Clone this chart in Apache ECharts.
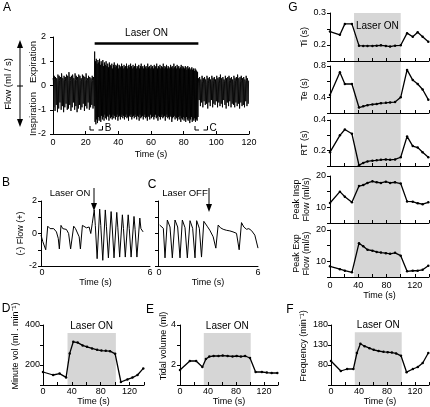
<!DOCTYPE html>
<html><head><meta charset="utf-8">
<script src="https://cdn.jsdelivr.net/npm/echarts@6/dist/echarts.min.js"></script>
<style>html,body{margin:0;padding:0;background:#fff}#c{width:430px;height:407px}</style>
</head><body><div id="c"></div>
<script>
// ================= DATA =================
// Panel A: flow trace sampled every 0.25 s (ml/s)
const flowStep = 0.25;
const flowPre = [
0.3,0.2,-0.9, 0.4,0.25,-1.05, 0.35,0.2,-0.8, 0.3,0.15,-1.1, 0.45,0.3,-0.95,
0.4,0.2,-0.7, 0.35,0.25,-1.0, 0.5,0.3,-0.85, 0.3,0.2,-1.1, 0.4,0.25,-0.9,
0.35,0.15,-0.75, 0.45,0.3,-1.0, 0.4,0.2,-0.95, 0.55,0.3,-0.8, 0.35,0.2,-1.05,
0.4,0.25,-0.9, 0.45,0.3,-0.7, 0.3,0.2,-1.0, 0.5,0.25,-0.85, 0.4,0.2,-1.1,
0.35,0.25,-0.95, 0.45,0.3,-0.8, 0.4,0.2,-1.0, 0.3,0.15,-0.9, 0.45,0.25,-0.75,
0.4,0.3,-1.05, 0.35,0.2,-0.85, 0.5,0.25,-0.95, 0.3,0.2,-0.7, 0.4,0.25,-1.0,
0.35,0.2,-0.9, 0.3,0.15,-0.8, 0.4,0.2,-0.95, 0.35,0.2,-0.85
];
const flowLaser = [
1.4,-1.5, 1.0,-1.6, 1.1,-1.4, 0.9,-1.55, 1.05,-1.3, 0.95,-1.45, 1.1,-1.35, 0.85,-1.5, 1.0,-1.25, 0.9,-1.4,
1.05,-1.3, 0.8,-1.45, 0.95,-1.2, 0.85,-1.35, 1.0,-1.4, 0.8,-1.25, 0.9,-1.3, 0.75,-1.45, 0.95,-1.2, 0.85,-1.35,
0.8,-1.3, 0.9,-1.4, 0.7,-1.2, 0.85,-1.35, 0.95,-1.25, 0.75,-1.4, 0.85,-1.3, 0.8,-1.2, 0.9,-1.45, 0.7,-1.3,
0.85,-1.25, 0.8,-1.4, 0.75,-1.3, 0.9,-1.2, 0.8,-1.35, 0.7,-1.25, 0.85,-1.4, 0.75,-1.3, 0.8,-1.2, 0.9,-1.35,
0.7,-1.3, 0.8,-1.45, 0.85,-1.25, 0.75,-1.3, 0.9,-1.2, 0.8,-1.4, 0.7,-1.3, 0.85,-1.25, 0.75,-1.35, 0.8,-1.2,
0.9,-1.3, 0.7,-1.4, 0.8,-1.25, 0.75,-1.3, 0.85,-1.45, 0.7,-1.2, 0.8,-1.35, 0.9,-1.3, 0.75,-1.25, 0.8,-1.4,
0.7,-1.3, 0.85,-1.2, 0.75,-1.35, 0.8,-1.3, 0.7,-1.45, 0.9,-1.25, 0.75,-1.3, 0.8,-1.4, 0.7,-1.2, 0.85,-1.35,
0.75,-1.3, 0.8,-1.25, 0.7,-1.4, 0.85,-1.3, 0.75,-1.2, 0.8,-1.35, 0.9,-1.3, 0.7,-1.45, 0.8,-1.25, 0.75,-1.3,
0.85,-1.4, 0.7,-1.3, 0.8,-1.2, 0.75,-1.35, 0.9,-1.3, 0.7,-1.25, 0.8,-1.45, 0.75,-1.3, 0.85,-1.2, 0.7,-1.35,
0.8,-1.3, 0.75,-1.4, 0.7,-1.25, 0.85,-1.3, 0.75,-1.5, 0.8,-1.35, 0.7,-1.3, 0.9,-1.25, 0.75,-1.4, 0.8,-1.3,
0.7,-1.35, 0.85,-1.45, 0.75,-1.3, 0.8,-1.4, 0.7,-1.25, 0.75,-1.5, 0.85,-1.35, 0.7,-1.4, 0.8,-1.3, 0.75,-1.45,
0.7,-1.35, 0.8,-1.5, 0.75,-1.3, 0.65,-1.4, 0.8,-1.45, 0.7,-1.35, 0.75,-1.55, 0.65,-1.4, 0.7,-1.3, 0.75,-1.5,
0.65,-1.4, 0.7,-1.45, 0.6,-1.35, 0.7,-1.5, 0.65,-1.4, 0.6,-1.45, 0.55,-1.3
];
const flowPost = [
0.3,0.1,-0.6, 0.35,0.15,-0.85, 0.25,0.1,-0.7, 0.4,0.15,-0.9, 0.3,0.1,-0.65,
0.35,0.2,-0.8, 0.25,0.05,-0.75, 0.4,0.2,-0.95, 0.3,0.1,-0.7, 0.35,0.15,-0.85,
0.25,0.1,-0.6, 0.4,0.2,-0.9, 0.3,0.1,-0.75, 0.35,0.15,-0.8, 0.25,0.05,-0.65,
0.4,0.2,-0.9, 0.3,0.15,-0.7, 0.35,0.1,-0.85, 0.45,0.2,-0.75, 0.3,0.1,-0.9,
0.35,0.15,-0.6, 0.25,0.1,-0.8, 0.4,0.2,-0.95, 0.3,0.1,-0.7, 0.35,0.15,-0.85,
0.4,0.2,-0.65, 0.3,0.1,-0.9, 0.35,0.15,-0.75, 0.25,0.05,-0.8, 0.4,0.2,-0.9,
0.3,0.1,-0.7, 0.35,0.15,-0.85, 0.45,0.2,-0.75, 0.3,0.1,-0.95, 0.35,0.15,-0.7,
0.4,0.2,-0.85, 0.3,0.1,-0.8, 0.35,0.15,-0.9, 0.25,0.1,-0.65, 0.4,0.2,-0.85,
0.3,0.15,-0.75, 0.2
];
const laserA = [25.5, 89];      // s, bar above panel A
const laserBarLevel = 1.75;     // ml/s

// Panel B (laser ON) and C (laser OFF): 6-s excerpts
const bTime = [0,0.1,0.26,0.37,0.5,0.7,0.85,0.95,1.01,1.1,1.2,1.4,1.52,1.63,1.8,1.9,2.0,2.1,2.17,2.28,2.5,2.65,2.74,2.82,2.93,2.99,3.09,3.23,3.29,3.4,3.54,3.6,3.71,3.86,3.92,4.02,4.17,4.23,4.33,4.48,4.54,4.64,4.8,4.86,4.96,5.12,5.18,5.28,5.44,5.5,5.62];
const bFlow = [-0.1,-0.5,-1.0,0.45,0.3,0.3,0.1,-0.3,-0.95,0.5,0.3,0.25,0.0,-0.95,0.45,0.3,0.3,-0.2,-0.95,0.5,0.35,0.4,0.0,0.6,1.45,0.5,-1.55,1.5,0.5,-1.65,1.45,0.45,-1.5,1.35,0.4,-1.5,1.3,0.35,-1.45,1.15,0.3,-1.45,1.15,0.3,-1.45,1.05,0.25,-1.45,0.95,0.3,0.1];
const cTime = [0.1,0.32,0.42,0.56,0.72,0.86,1.02,1.18,1.32,1.46,1.62,1.76,1.92,2.08,2.22,2.32,2.48,2.61,2.75,2.95,3.11,3.31,3.47,3.61,3.75,3.91,4.1,4.31,4.5,4.71,4.87,5.01,5.15,5.31,5.45,5.61,5.81,6.0];
const cFlow = [0.52,0.32,-1.5,0.83,0.4,-1.5,0.83,0.4,-1.5,0.83,0.36,-1.5,0.79,0.32,-1.5,0.79,0.32,-1.45,0.75,0.45,0.2,-0.2,-0.9,0.52,0.35,0.26,0.2,0.16,0.1,0.01,-1.0,0.67,0.4,0.26,0.3,0.18,-0.1,-0.9];

// Panels D, E, F
const laserWindow = [34, 101]; // s, grey box
const timeDEF = [0,14,23,32,37,42,48,55,61,68,75,81,87,93,100,108,117,124,131,139];
const minuteVol = [165,150,157,138,258,316,312,298,291,283,276,272,271,269,256,115,128,137,150,183];
const tidalVol = [1.75,2.2,2.2,1.9,2.3,2.42,2.45,2.45,2.47,2.45,2.43,2.45,2.42,2.45,2.35,1.65,1.65,1.62,1.6,1.6];
const frequency = [90,65,70,70,110,133,127,122,118,115,113,112,111,109,103,62,70,75,85,110];
const boxTopDEF = [360, 3.6, 162];

// Panel G
const laserWindowG = [34, 100];
const timeG = [0,14,21,31,41,47,53,60,66,72,79,85,92,100,109,117,124,131,139];
const ti = [0.242,0.232,0.266,0.266,0.198,0.197,0.197,0.197,0.198,0.199,0.197,0.195,0.198,0.199,0.237,0.226,0.24,0.226,0.21];
const te = [0.43,0.72,0.57,0.57,0.27,0.285,0.3,0.31,0.315,0.325,0.33,0.335,0.34,0.4,0.75,0.62,0.57,0.5,0.37];
const rt = [0.19,0.30,0.338,0.31,0.105,0.12,0.13,0.135,0.137,0.14,0.143,0.14,0.143,0.157,0.293,0.23,0.22,0.19,0.157];
const peakInsp = [11.4,15.0,13.4,11.6,16.8,17.1,17.8,18.3,18.0,17.8,18.2,17.8,18.0,17.6,11.9,11.8,11.3,11.0,11.6];
const peakExp = [8.4,7.5,7.0,6.5,15.8,14.8,13.7,13.4,13.0,12.8,12.6,12.4,12.7,11.8,6.8,7.0,7.0,7.3,8.6];

// ================= CHART =================
const FONT = '"Liberation Sans", Arial, sans-serif';
const K = '#000';
const GREY = '#d6d6d6';
const zip = (xs, ys) => xs.map((x, i) => [x, ys[i]]);
const flowAll = flowPre.concat(flowLaser, flowPost);
const flowData = flowAll.map((v, i) => [i * flowStep, v]);
const only = (vals, dec) => v => vals.some(x => Math.abs(x - v) < 1e-6) ? (dec != null ? v.toFixed(dec) : String(v)) : '';

const grids = [
  {left:53, top:37, width:196, height:97},
  {left:41, top:201, width:109, height:65},
  {left:158, top:201, width:100, height:65},
  {left:43, top:325, width:101, height:60},
  {left:180, top:325, width:98, height:60},
  {left:331, top:325, width:98, height:60},
  {left:330, top:13, width:99, height:264},
  {left:330, top:13, width:99, height:48},
  {left:330, top:66, width:99, height:47},
  {left:330, top:120, width:99, height:46},
  {left:330, top:176, width:99, height:47},
  {left:330, top:230, width:99, height:47}
].map(g => Object.assign({outerBoundsMode:'none', containLabel:false}, g));

function xA(gi, min, max, interval, o = {}) {
  return {
    type:'value', gridIndex:gi, min, max, interval, z:10, show: o.show !== false,
    axisLine:{show:true, onZero:false, lineStyle:{color:K, width:1}},
    axisTick:{show:o.tick !== false, inside:true, length:3, lineStyle:{color:K, width:1}},
    axisLabel:{show:o.label !== false, showMinLabel:true, showMaxLabel:true, hideOverlap:false,
      color:K, fontSize:9, fontFamily:FONT, margin:o.margin != null ? o.margin : 3, formatter:o.fmt},
    splitLine:{show:false},
    name:o.name || '', nameLocation:'middle', nameGap:o.nameGap != null ? o.nameGap : 12,
    nameTextStyle:{color:K, fontSize:9, fontFamily:FONT}
  };
}
function yA(gi, min, max, interval, o = {}) {
  return {
    type:'value', gridIndex:gi, min, max, interval, z:10, show: o.show !== false,
    axisLine:{show:true, onZero:false, lineStyle:{color:K, width:1}},
    axisTick:{show:true, inside:false, length:3, lineStyle:{color:K, width:1}},
    axisLabel:{show:o.label !== false, showMinLabel:true, showMaxLabel:true, hideOverlap:false,
      color:K, fontSize:9, fontFamily:FONT, margin:o.margin != null ? o.margin : 4, formatter:o.fmt},
    splitLine:{show:false},
    name:o.name || '', nameLocation:'middle', nameRotate:90, nameGap:o.nameGap != null ? o.nameGap : 14,
    nameTextStyle:{color:K, fontSize:9, fontFamily:FONT, lineHeight:10}
  };
}

const fmt4 = only([0,40,80,120]);
const fmt6 = only([6]);
const xAxes = [
  xA(0, 0, 120, 20, {margin:4.5, name:'Time (s)', nameGap:16}),
  xA(1, 0, 6, 2, {tick:false, margin:2, fmt:fmt6, name:'Time (s)', nameGap:5}),
  xA(2, 0, 6, 2, {tick:false, margin:2, fmt:fmt6, name:'Time (s)', nameGap:5}),
  xA(3, 0, 140, 20, {margin:2, fmt:fmt4, name:'Time (s)', nameGap:10}),
  xA(4, 0, 140, 20, {margin:2, fmt:fmt4, name:'Time (s)', nameGap:10}),
  xA(5, 0, 140, 20, {margin:2, fmt:fmt4, name:'Time (s)', nameGap:10}),
  xA(6, 0, 140, 20, {show:false}),
  xA(7, 0, 140, 20, {label:false}),
  xA(8, 0, 140, 20, {label:false}),
  xA(9, 0, 140, 20, {label:false}),
  xA(10, 0, 140, 20, {label:false}),
  xA(11, 0, 140, 20, {margin:4.5, fmt:fmt4, name:'Time (s)', nameGap:11.5})
];
const yAxes = [
  yA(0, -2, 2, 1, {margin:7}),
  yA(1, -2, 2, 1, {fmt:only([-2,0,2]), name:'(-) Flow (+)', nameGap:13}),
  yA(2, -2, 2, 1, {label:false}),
  yA(3, 100, 400, 100, {margin:3, fmt:only([200,400])}),
  yA(4, 1, 4, 1, {margin:4, fmt:only([2,4])}),
  yA(5, 30, 180, 50, {margin:3, fmt:only([80,130,180])}),
  yA(6, 0, 1, 1, {show:false}),
  yA(7, 0.15, 0.3, 0.05, {fmt:only([0.2,0.3],1), name:'Ti (s)', nameGap:20}),
  yA(8, 0.2, 0.8, 0.2, {fmt:only([0.4,0.8],1), name:'Te (s)', nameGap:20}),
  yA(9, 0.1, 0.4, 0.1, {fmt:only([0.2,0.4],1), name:'RT (s)', nameGap:20}),
  yA(10, 5, 20, 5, {fmt:only([10,20]), name:'Peak Insp\nFlow (ml/s)', nameGap:18}),
  yA(11, 5, 20, 5, {fmt:only([10,20]), name:'Peak Exp\nFlow (ml/s)', nameGap:18})
];

const lineS = (gi, data, extra = {}) => Object.assign({
  type:'line', xAxisIndex:gi, yAxisIndex:gi, data, z:3,
  symbol:'circle', symbolSize:2.5, showSymbol:true,
  itemStyle:{color:K}, lineStyle:{color:K, width:1.3}, animation:false, silent:true
}, extra);

const boxLabel = (pos, dist) => ({show:true, position:pos, distance:dist, color:K, fontSize:10, fontFamily:FONT});
const boxDEF = (yMin, yTop) => ({
  silent:true, itemStyle:{color:GREY}, label:boxLabel('top', 2),
  data:[[{name:'Laser ON', xAxis:laserWindow[0], yAxis:yMin}, {xAxis:laserWindow[1], yAxis:yTop}]]
});

const series = [
  lineS(0, flowData, {symbol:'none', lineStyle:{color:K, width:0.9},
    markLine:{silent:true, symbol:'none', lineStyle:{color:K, width:2.5, type:'solid'},
      label:{show:true, position:'insideMiddleTop', distance:5, formatter:'Laser ON', color:K, fontSize:10, fontFamily:FONT},
      data:[[{coord:[laserA[0], laserBarLevel]}, {coord:[laserA[1], laserBarLevel]}]]}}),
  lineS(1, zip(bTime, bFlow), {symbol:'none', lineStyle:{color:K, width:1}}),
  lineS(2, zip(cTime, cFlow), {symbol:'none', lineStyle:{color:K, width:1}}),
  lineS(3, zip(timeDEF, minuteVol), {markArea:boxDEF(100, boxTopDEF[0])}),
  lineS(4, zip(timeDEF, tidalVol), {markArea:boxDEF(1, boxTopDEF[1])}),
  lineS(5, zip(timeDEF, frequency), {markArea:boxDEF(30, boxTopDEF[2])}),
  {type:'line', xAxisIndex:6, yAxisIndex:6, data:[], z:1, animation:false, silent:true,
    markArea:{silent:true, itemStyle:{color:GREY}, label:boxLabel('insideTop', 8),
      data:[[{name:'Laser ON', xAxis:laserWindowG[0], yAxis:0}, {xAxis:laserWindowG[1], yAxis:1}]]}},
  lineS(7, zip(timeG, ti)),
  lineS(8, zip(timeG, te)),
  lineS(9, zip(timeG, rt)),
  lineS(10, zip(timeG, peakInsp)),
  lineS(11, zip(timeG, peakExp))
];

const txt = (x, y, text, size, extra = {}) => Object.assign({
  type:'text', x, y, silent:true, z:100,
  style:{text, fill:K, fontSize:size, fontFamily:FONT, align:'center', verticalAlign:'middle'}
}, extra);
const poly = (pts) => ({type:'polyline', silent:true, shape:{points:pts}, style:{stroke:K, lineWidth:1, fill:null}});
const tri = (pts) => ({type:'polygon', silent:true, shape:{points:pts}, style:{fill:K}});
const ROT = {rotation:Math.PI / 2};

const graphic = [
  txt(7, 8, 'A', 12), txt(6, 183, 'B', 12), txt(152, 185, 'C', 12),
  txt(6, 309, 'D', 12), txt(150, 310, 'E', 12), txt(290, 310, 'F', 12), txt(293, 8, 'G', 12),
  // A: flow direction arrow and labels
  poly([[20, 46], [20, 121]]), tri([[17, 48], [23, 48], [20, 40]]), tri([[17, 119], [23, 119], [20, 127]]),
  poly([[17, 86], [23, 86]]),
  txt(8, 84, 'Flow (ml / s)', 9.5, ROT),
  txt(33, 62, 'Expiration', 9.5, ROT),
  txt(33, 114, 'Inspiration', 9.5, ROT),
  // A: excerpt brackets
  poly([[90, 126], [90, 130], [94, 130]]), poly([[98.5, 130], [102.5, 130], [102.5, 126]]), txt(108, 128, 'B', 10),
  poly([[195, 126], [195, 130], [199, 130]]), poly([[203.5, 130], [207.5, 130], [207.5, 126]]), txt(213, 128, 'C', 10),
  // B / C arrows
  txt(70, 193, 'Laser ON', 9.5), poly([[94, 188], [94, 204]]), tri([[91, 203], [97, 203], [94, 211]]),
  txt(185, 193, 'Laser OFF', 9.5), poly([[209, 188], [209, 205]]), tri([[206, 204], [212, 204], [209, 212]]),
  // B / C time-axis start label
  txt(42, 273, '0', 9), txt(159, 273, '0', 9),
  // D / E / F axis titles
  txt(16, 346, 'Minute vol (ml . min⁻¹)', 9, ROT),
  txt(164, 346, 'Tidal volume (ml)', 9, ROT),
  txt(304, 346, 'Frequency (min⁻¹)', 9, ROT)
];

const chart = echarts.init(document.getElementById('c'), null, {renderer:'canvas'});
chart.setOption({
  animation:false, backgroundColor:'#fff',
  textStyle:{fontFamily:FONT},
  grid:grids, xAxis:xAxes, yAxis:yAxes, series, graphic
});
</script></body></html>
